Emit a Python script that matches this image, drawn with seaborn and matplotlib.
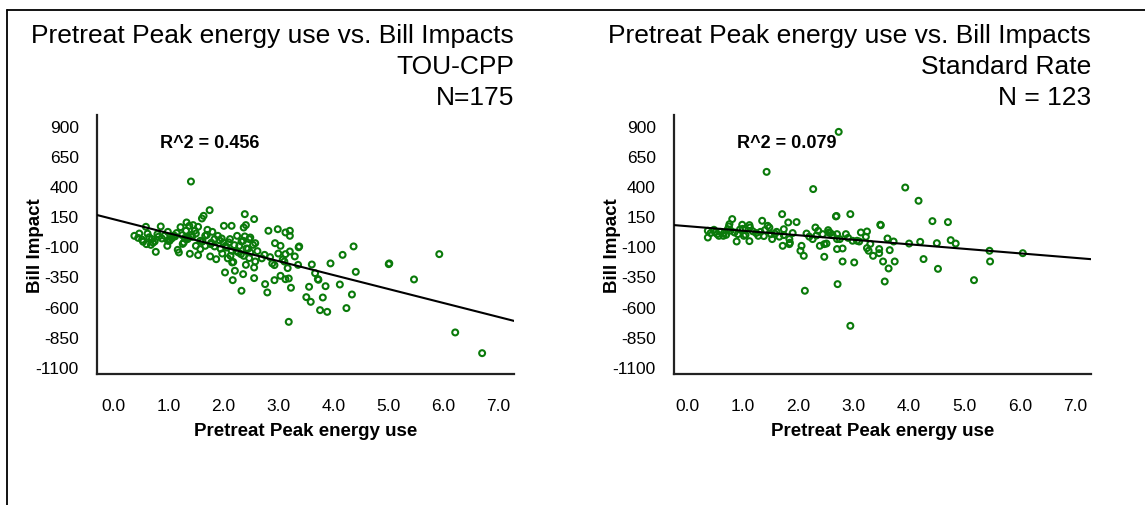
import numpy as np
import pandas as pd
import matplotlib
matplotlib.use("Agg")
import matplotlib.pyplot as plt
from matplotlib.lines import Line2D
import seaborn as sns

# ---------------- data ----------------
tou_x = [1.41, 1.75, 1.64, 1.61, 2.39, 2.56, 2.01, 2.15, 2.41, 2.37, 2.82, 2.99, 3.13, 3.21, 3.21,
         2.94, 3.04, 3.38, 3.37, 3.21, 3.13, 2.75, 3.30, 4.37, 4.17, 5.93, 5.02, 5.01, 3.95, 3.61,
         3.36, 3.67, 4.41, 2.89, 2.93, 3.11, 3.17, 3.72, 3.73, 5.47, 4.12, 3.86, 3.56, 4.34, 3.81,
         3.51, 3.59, 3.76, 3.89, 4.24, 3.19, 6.22, 6.71, 3.23, 3.19, 3.13, 3.04, 2.93, 2.76, 2.80,
         2.56, 2.36, 2.33, 2.17, 2.21, 2.03, 2.41, 2.58, 2.56, 2.47, 2.32, 2.42, 2.49, 2.47, 2.58,
         2.54, 2.25, 2.10, 2.15, 2.13, 2.16, 1.98, 1.87, 1.76, 1.54, 1.39, 1.19, 1.17, 0.77, 0.98,
         0.38, 0.47, 0.54, 0.60, 0.68, 0.59, 0.86, 0.80, 0.70, 0.93, 0.99, 1.06, 1.12, 1.22, 1.33,
         1.38, 1.45, 1.32, 1.25, 1.35, 1.50, 1.54, 1.58, 1.67, 1.71, 1.80, 1.84, 1.67, 1.58, 1.77,
         1.90, 1.97, 2.00, 2.04, 1.84, 2.29, 2.36, 2.39, 2.37, 2.49, 1.50, 1.28, 1.43, 0.99, 0.82,
         0.45, 0.52, 0.65, 0.72, 0.88, 1.02, 1.10, 1.15, 1.30, 1.42, 1.48, 1.62, 1.70, 1.78, 1.93,
         2.06, 2.12, 2.20, 2.27, 2.33, 2.45, 2.62, 2.70, 2.85, 3.00, 3.08, 1.95, 2.08, 2.18, 2.24,
         1.26, 1.36, 0.62, 0.75, 1.03]
tou_y = [438, 200, 153, 131, 167, 126, 70, 70, 76, 56, 29, 42, 15, 29, -13,
         -74, -96, -101, -108, -143, -165, -171, -184, -101, -171, -165, -242, -248, -242, -251,
         -254, -323, -312, -242, -256, -226, -281, -372, -378, -375, -417, -431, -436, -500, -525,
         -522, -561, -630, -644, -613, -727, -815, -987, -444, -367, -373, -345, -381, -414, -483,
         -364, -331, -469, -381, -303, -317, -254, -226, -276, -198, -165, -118, -27, -40, -74,
         -88, -13, -68, -137, -179, -234, -160, -207, -184, -173, -162, -151, -129, -146, -96,
         -13, 6, -62, -82, -88, 62, 65, 1, -40, -13, 20, -35, -18, 59, 98,
         70, 76, 29, -7, -40, 6, 62, -54, -13, 37, 20, -40, -96, -123, -82,
         -13, -35, -68, -96, -101, -96, -54, -18, -179, -151, -96, -68, -21, -54, -20,
         -30, -45, -25, -70, -35, -55, -10, 10, -30, -5, 30, -60, -5, -70, -50,
         -110, -40, -90, -150, -60, -120, -140, -200, -190, -160, -210, -120, -200, -230, -140,
         -80, -25, 5, -60, -45]

std_x = [2.73, 1.43, 2.27, 3.93, 4.17, 1.71, 2.68, 2.69, 2.94, 4.42, 4.70, 3.48, 3.49, 1.97, 1.82,
         1.35, 0.81, 0.76, 0.75, 0.73, 0.99, 1.12, 1.13, 1.45, 1.48, 0.37, 0.37, 0.48, 0.54, 0.57,
         0.65, 0.66, 0.91, 0.89, 1.02, 1.12, 1.28, 1.32, 1.51, 1.53, 1.61, 1.74, 1.74, 1.84, 1.84,
         1.85, 1.72, 2.06, 2.04, 2.10, 2.15, 2.26, 2.31, 2.36, 2.44, 2.54, 2.55, 2.62, 2.70, 2.70,
         2.75, 2.39, 2.47, 2.51, 2.47, 2.70, 2.80, 2.80, 3.01, 2.71, 2.12, 2.94, 2.86, 2.98, 3.06,
         3.13, 3.24, 3.22, 3.24, 3.27, 3.35, 3.46, 3.46, 3.53, 3.65, 3.74, 3.63, 3.56, 3.61, 3.72,
         4.00, 4.20, 4.26, 4.50, 4.52, 4.75, 4.84, 5.17, 5.45, 5.46, 6.05, 0.42, 0.60, 0.70, 0.78,
         0.85, 0.95, 1.05, 1.18, 1.24, 1.40, 1.58, 1.66, 1.90, 2.20, 2.33, 2.58, 2.90, 3.10, 3.30,
         1.00, 1.38, 0.50]
std_y = [850, 518, 375, 388, 278, 167, 148, 152, 167, 109, 101, 79, 75, 101, 98,
         112, 126, 84, 65, 42, 79, 76, 56, 70, 56, 29, -27, 37, 1, -13,
         -13, 9, 1, -60, -13, -57, -13, 20, 1, -40, 20, 42, -7, -40, -82,
         -70, -96, -96, -137, -179, 6, -40, 56, 29, 1, 34, 15, -7, 1, -40,
         -40, -96, -82, -77, -187, -123, -118, -226, -234, -414, -469, -760, 1, -54, -54,
         15, 23, -21, -115, -137, -179, -123, -157, -226, -132, -226, -284, -392, -35, -60,
         -77, -63, -206, -74, -287, -49, -77, -381, -137, -226, -157, 10, 20, -5, 30,
         15, 40, -5, 25, 10, 35, 5, -20, 10, -20, -10, 10, -30, -60, -80,
         45, -15, 15]

# regression lines (intercept, slope)
tou_fit = [125, -115.8]
std_fit = [67, -37.6]

panels = [
    dict(x=tou_x, y=tou_y, fit=tou_fit, r2="R^2 = 0.456",
         title=["Pretreat Peak energy use vs. Bill Impacts", "TOU-CPP", "N=175"],
         xlim=(-0.30, 7.29)),
    dict(x=std_x, y=std_y, fit=std_fit, r2="R^2 = 0.079",
         title=["Pretreat Peak energy use vs. Bill Impacts", "Standard Rate", "N = 123"],
         xlim=(-0.24, 7.28)),
]
y_ticks = [900, 650, 400, 150, -100, -350, -600, -850, -1100]
x_ticks = [0, 1, 2, 3, 4, 5, 6, 7]
x_label = "Pretreat Peak energy use"
y_label = "Bill Impact"

# ---------------- figure ----------------
sns.set_style("white")
plt.rcParams["font.family"] = ["Liberation Sans", "DejaVu Sans"]
plt.rcParams["text.color"] = "black"
plt.rcParams["axes.labelcolor"] = "black"

W, H = 1145, 506
fig = plt.figure(figsize=(W / 100, H / 100), dpi=100)

axes_px = [(97, 116, 514, 375), (674, 116, 1091, 375)]
green = "#0a7a0a"

for p, (x0, y0, x1, y1) in zip(panels, axes_px):
    ax = fig.add_axes([x0 / W, 1 - y1 / H, (x1 - x0) / W, (y1 - y0) / H])
    df = pd.DataFrame({"x": p["x"], "y": p["y"]})
    sns.scatterplot(data=df, x="x", y="y", ax=ax, marker="o", s=18,
                    facecolors="none", edgecolor=green, linewidth=1.5, zorder=3)
    b0, b1 = p["fit"]
    ax.axline((0, b0), slope=b1, color="black", lw=1.5, zorder=4)
    ax.set_xlim(*p["xlim"])
    ax.set_ylim(-1160, 990)
    ax.set_xticks(x_ticks)
    ax.set_xticklabels([f"{v:.1f}" for v in x_ticks])
    ax.set_yticks(y_ticks)
    ax.set_yticklabels([str(v) for v in y_ticks])
    ax.tick_params(axis="both", length=0, labelsize=12.5, colors="black")
    ax.tick_params(axis="y", pad=13)
    ax.tick_params(axis="x", pad=17)
    ax.set_xlabel(x_label, fontsize=13.5, fontweight="bold", labelpad=7)
    ax.set_ylabel(y_label, fontsize=13.5, fontweight="bold")
    ax.yaxis.set_label_coords(-53 / (x1 - x0), 0.5)
    for s in ["top", "right"]:
        ax.spines[s].set_visible(False)
    for s in ["left", "bottom"]:
        ax.spines[s].set_color("#222222")
        ax.spines[s].set_linewidth(1.6)
    ax.text(0.152, 0.895, p["r2"], transform=ax.transAxes, fontsize=13,
            fontweight="bold", ha="left", va="center", color="black")
    # titles, right-aligned to the axes' right edge
    for t, base in zip(p["title"], [43, 74, 105]):
        fig.text(x1 / W, 1 - base / H, t, ha="right", va="baseline",
                 fontsize=19, color="black")

# frame of the chart area (left and top edges visible)
fx, fy = 7 / W, 1 - 11 / H
fig.add_artist(Line2D([fx, fx], [0, fy], color="black", lw=1.3))
fig.add_artist(Line2D([fx, 1], [fy, fy], color="black", lw=1.3))

fig.savefig("out.png", dpi=100)
